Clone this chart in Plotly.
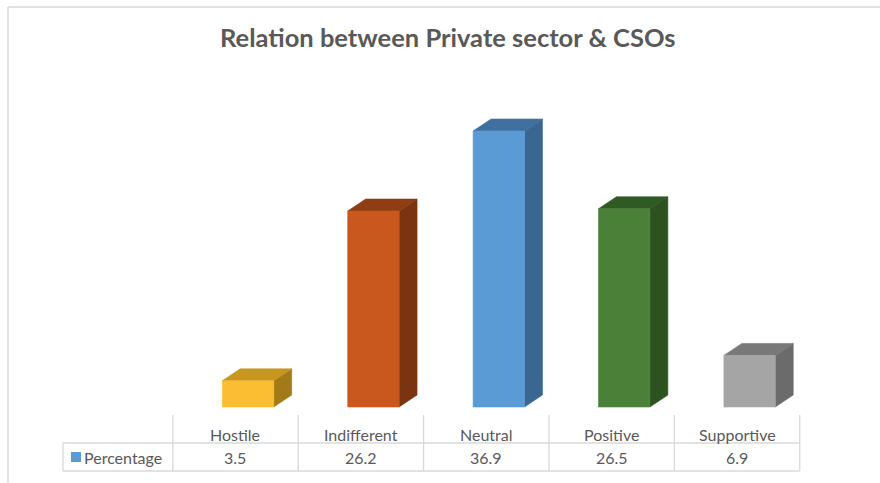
import plotly.graph_objects as go

# Survey results: how CSOs describe their relation with the private sector
categories = ["Hostile", "Indifferent", "Neutral", "Positive", "Supportive"]
percentages = [3.5, 26.2, 36.9, 26.5, 6.9]
series_name = "Percentage"
title_text = "Relation between Private sector & CSOs"

# (front, top, side) shades for each 3D column
front_colors = ["#FBBE33", "#C9581F", "#5B9BD5", "#4B8039", "#A5A5A5"]
top_colors = ["#C6961F", "#8F3E14", "#3F70A0", "#2F5A23", "#787878"]
side_colors = ["#A27A17", "#7B3410", "#3A6791", "#2C521F", "#6B6B6B"]

W, H = 880, 483

# axis ranges chosen so one category step is ~125 px and 1 % is ~7.5 px
X_RANGE = [-1.878, 5.140]
Y_RANGE = [-10.16, 54.41]

BAR_OFFSET = 0.10   # front face centre shift from the category centre
BAR_WIDTH = 0.41    # front face width (category units)
DEPTH_X = 0.143     # receding depth, category units
DEPTH_Y = 1.6       # receding depth, value units


def px_x(p):
    return p / W


def px_y(p):
    return 1 - p / H


def x_from_px(p):
    return X_RANGE[0] + (X_RANGE[1] - X_RANGE[0]) * px_x(p)


fig = go.Figure()

for i, (cat, v) in enumerate(zip(categories, percentages)):
    xl = i + BAR_OFFSET - BAR_WIDTH / 2
    xr = i + BAR_OFFSET + BAR_WIDTH / 2
    faces = [
        # side face
        ([xr, xr + DEPTH_X, xr + DEPTH_X, xr, xr],
         [0, DEPTH_Y, v + DEPTH_Y, v, 0], side_colors[i]),
        # top face
        ([xl, xr, xr + DEPTH_X, xl + DEPTH_X, xl],
         [v, v, v + DEPTH_Y, v + DEPTH_Y, v], top_colors[i]),
        # front face
        ([xl, xr, xr, xl, xl], [0, 0, v, v, 0], front_colors[i]),
    ]
    for xs, ys, col in faces:
        fig.add_trace(go.Scatter(
            x=xs, y=ys, mode="lines", fill="toself", fillcolor=col,
            line=dict(color=col, width=0.6), hoverinfo="skip",
            showlegend=False,
        ))

# data table under the columns
grid = "#D9D9D9"
text_col = "#595959"
font_family = "Lato, Carlito, Calibri, sans-serif"
table_font = dict(size=16, color=text_col, family=font_family)
n = len(categories)
col_edges = [i - 0.5 for i in range(n + 1)]
table_left_px = 63
header_top_px, row_top_px, row_bottom_px = 415, 443, 471

shapes = []
for ce in col_edges:
    shapes.append(dict(type="line", xref="x", yref="paper",
                       x0=ce, x1=ce, y0=px_y(header_top_px), y1=px_y(row_bottom_px),
                       line=dict(color=grid, width=1.3)))
for yy in (row_top_px, row_bottom_px):
    shapes.append(dict(type="line", xref="x", yref="paper",
                       x0=x_from_px(table_left_px), x1=col_edges[-1],
                       y0=px_y(yy), y1=px_y(yy),
                       line=dict(color=grid, width=1.3)))
shapes.append(dict(type="line", xref="paper", yref="paper",
                   x0=px_x(table_left_px), x1=px_x(table_left_px),
                   y0=px_y(row_top_px), y1=px_y(row_bottom_px),
                   line=dict(color=grid, width=1.3)))
# legend key square
shapes.append(dict(type="rect", xref="paper", yref="paper",
                   x0=px_x(71), x1=px_x(81), y0=px_y(462), y1=px_y(452),
                   fillcolor="#5B9BD5", line=dict(width=0)))
# chart area border
shapes.append(dict(type="line", xref="paper", yref="paper",
                   x0=px_x(8), x1=1, y0=px_y(7), y1=px_y(7),
                   line=dict(color=grid, width=1.5)))
shapes.append(dict(type="line", xref="paper", yref="paper",
                   x0=px_x(8), x1=px_x(8), y0=px_y(7), y1=0,
                   line=dict(color=grid, width=1.5)))

annotations = []
for i, (cat, v) in enumerate(zip(categories, percentages)):
    annotations.append(dict(x=i, y=px_y(434), xref="x", yref="paper", text=cat,
                            xanchor="center", yanchor="middle",
                            showarrow=False, font=table_font))
    annotations.append(dict(x=i, y=px_y(457), xref="x", yref="paper", text=f"{v}",
                            xanchor="center", yanchor="middle",
                            showarrow=False, font=table_font))
annotations.append(dict(x=px_x(82), y=px_y(457), xref="paper", yref="paper", text=series_name,
                        xanchor="left", yanchor="middle", showarrow=False, font=table_font))
annotations.append(dict(x=px_x(448), y=px_y(37.5), xref="paper", yref="paper",
                        text=f"<b>{title_text}</b>", showarrow=False,
                        xanchor="center", yanchor="middle",
                        font=dict(size=25.5, color=text_col, family=font_family)))

fig.update_layout(
    width=W, height=H, autosize=False,
    margin=dict(l=0, r=0, t=0, b=0, pad=0),
    paper_bgcolor="white", plot_bgcolor="white",
    xaxis=dict(range=X_RANGE, visible=False, fixedrange=True),
    yaxis=dict(range=Y_RANGE, visible=False, fixedrange=True),
    shapes=shapes, annotations=annotations, showlegend=False,
)

fig.write_html("out.html")
